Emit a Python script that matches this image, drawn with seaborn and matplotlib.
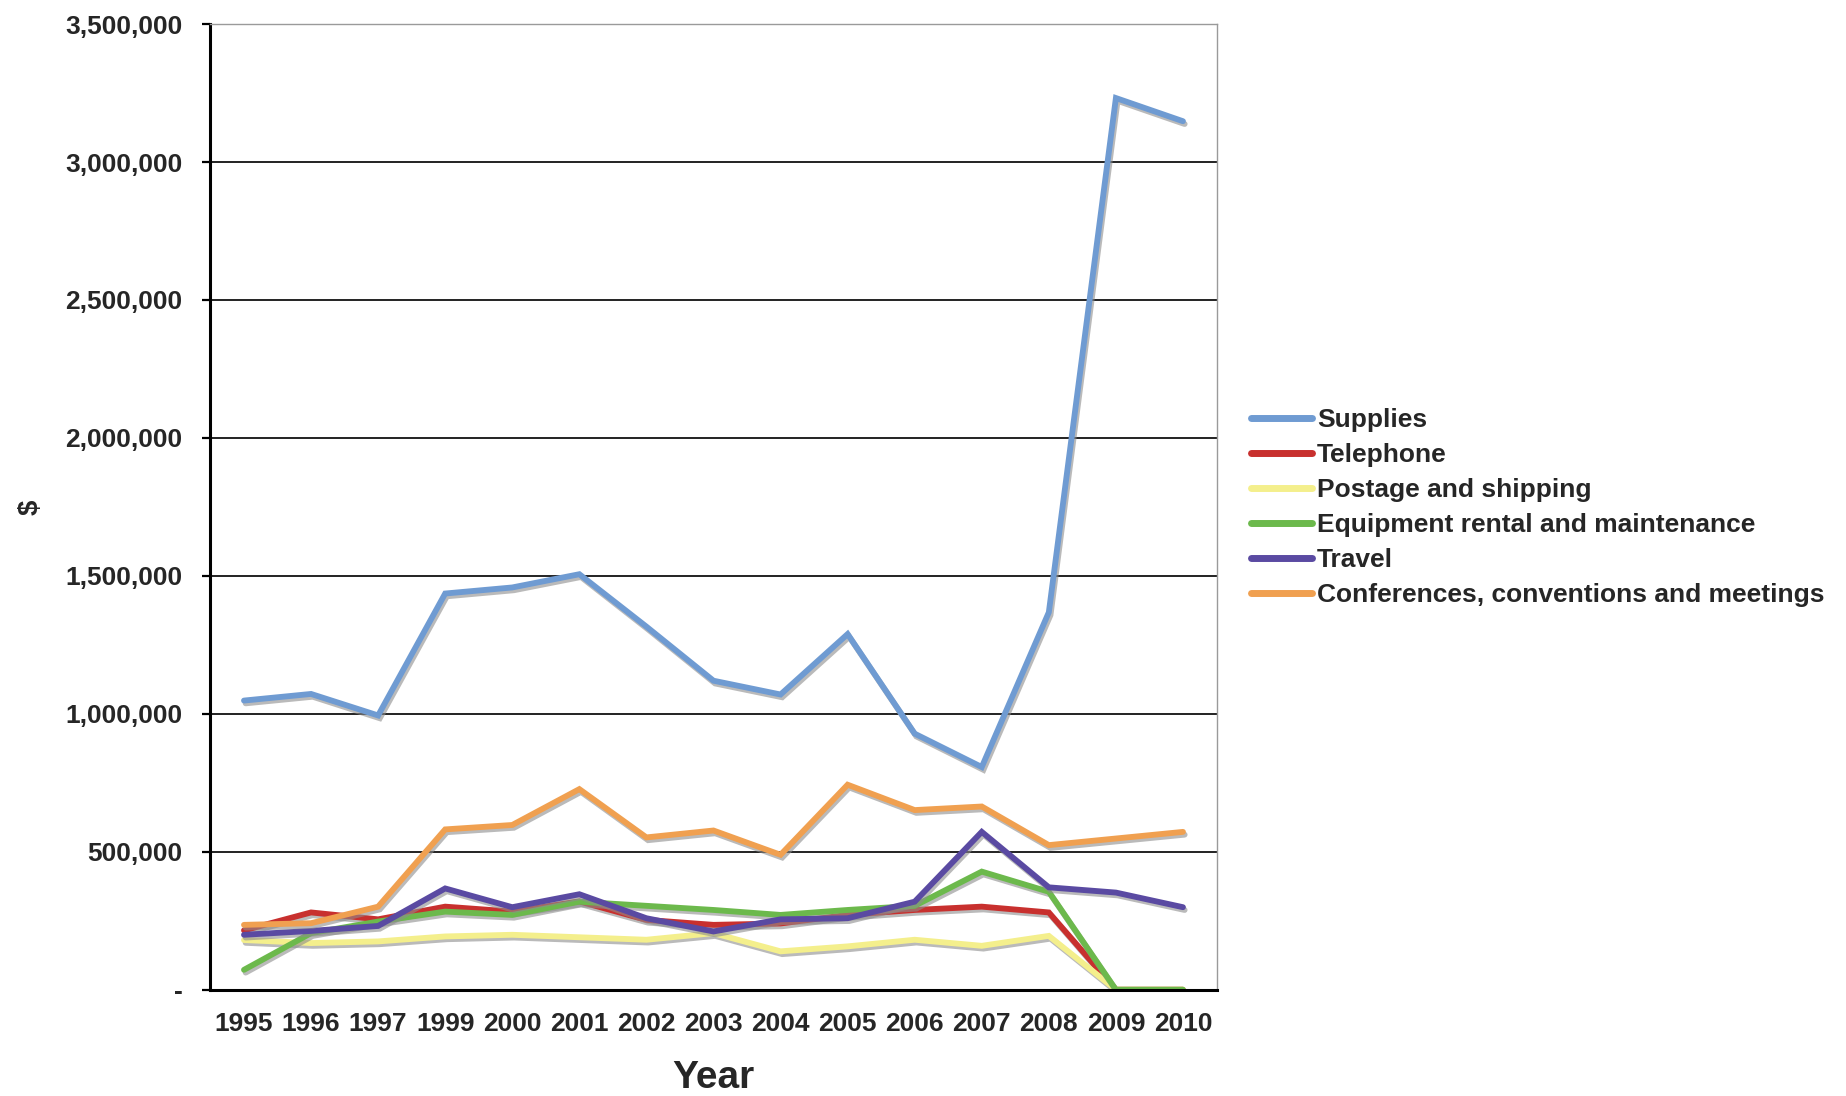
import numpy as np
import pandas as pd
import matplotlib
matplotlib.use("Agg")
import matplotlib.pyplot as plt
import matplotlib.patheffects as pe
from matplotlib.lines import Line2D
from matplotlib.ticker import FuncFormatter
import seaborn as sns

# data (note: no 1998 in the source)
years = ["1995", "1996", "1997", "1999", "2000", "2001", "2002", "2003",
         "2004", "2005", "2006", "2007", "2008", "2009", "2010"]

supplies = [1048000, 1072000, 994000, 1436000, 1458000, 1506000, 1316000, 1120000,
            1070000, 1289000, 928000, 807000, 1368000, 3232000, 3148000]
telephone = [215000, 280000, 255000, 301000, 283000, 320000, 253000, 235000,
             240000, 271000, 289000, 301000, 280000, 0, 0]
postage = [180000, 169000, 175000, 193000, 199000, 190000, 181000, 205000,
           139000, 157000, 181000, 159000, 195000, 0, 0]
equipment = [72000, 205000, 247000, 283000, 271000, 319000, 304000, 289000,
             271000, 289000, 304000, 428000, 355000, 0, 0]
travel = [199000, 213000, 231000, 367000, 299000, 346000, 259000, 211000,
          255000, 259000, 319000, 572000, 371000, 352000, 299000]
conferences = [235000, 241000, 301000, 581000, 597000, 727000, 552000, 577000,
               489000, 743000, 651000, 664000, 524000, 548000, 572000]

series_names = ["Supplies", "Telephone", "Postage and shipping",
                "Equipment rental and maintenance", "Travel",
                "Conferences, conventions and meetings"]
series_values = [supplies, telephone, postage, equipment, travel, conferences]
colors = ["#6f9bd2", "#c8302e", "#f4ef8c", "#6cb94c", "#5a4aa2", "#f0a050"]

rows = []
for name, vals in zip(series_names, series_values):
    for y, v in zip(years, vals):
        rows.append({"Year": y, "Value": v, "Series": name})
df = pd.DataFrame(rows)

sns.set_style("white")
plt.rcParams["font.family"] = ["Liberation Sans", "DejaVu Sans"]
plt.rcParams["font.weight"] = "bold"

fig = plt.figure(figsize=(18.46, 10.96), dpi=100)
ax = fig.add_axes([0.114, 0.097, 0.545, 0.881])

sns.lineplot(data=df, x="Year", y="Value", hue="Series", hue_order=series_names,
             palette=colors, linewidth=4.2, sort=False, legend=False, ax=ax)

for line in ax.lines:
    line.set_path_effects([pe.SimpleLineShadow(offset=(1.2, -2.0), shadow_color="#8c8c8c", alpha=0.6),
                           pe.Normal()])
    line.set_solid_joinstyle("miter")

ax.set_xlim(-0.5, len(years) - 0.5)
ax.set_ylim(0, 3500000)
ax.set_yticks(np.arange(0, 3500001, 500000))
ax.yaxis.set_major_formatter(FuncFormatter(lambda v, p: "-" if v == 0 else f"{v:,.0f}"))

ax.set_xticks(range(len(years)))
ax.set_xticklabels(years)
ax.set_xticks(np.arange(-0.5, len(years), 1), minor=True)
ax.tick_params(axis="x", which="major", length=0, pad=16, labelsize=19)
ax.tick_params(axis="x", which="minor", length=8, width=1.6, color="black", direction="out")
ax.tick_params(axis="y", which="major", length=6, width=1.6, color="black", pad=14,
               labelsize=19, direction="out", left=True)

ax.grid(axis="y", color="#111111", linewidth=1.3)
ax.grid(axis="x", visible=False)
ax.set_axisbelow(True)

for side in ["left", "bottom"]:
    ax.spines[side].set_color("black")
    ax.spines[side].set_linewidth(2.2)
for side in ["top", "right"]:
    ax.spines[side].set_color("#9a9a9a")
    ax.spines[side].set_linewidth(1.0)

ax.set_ylabel("$", fontsize=20, fontweight="bold")
ax.yaxis.set_label_coords(-0.166, 0.5)
ax.set_xlabel("Year", fontsize=28, fontweight="bold")
ax.xaxis.set_label_coords(0.5, -0.073)
ax.xaxis.label.set_va("top")

handles = [Line2D([0], [0], color=c, linewidth=5) for c in colors]
fig.legend(handles, series_names, loc="center left", bbox_to_anchor=(0.672, 0.537),
           frameon=False, fontsize=19, handlelength=2.3, handletextpad=0.2,
           labelspacing=0.42, borderaxespad=0)

fig.savefig("out.png", dpi=100)
